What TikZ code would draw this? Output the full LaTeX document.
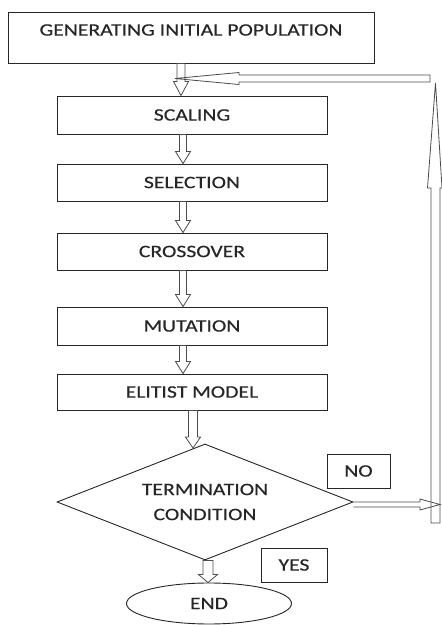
\documentclass[tikz,border=0pt]{standalone}
\usepackage{fontspec}
\setmainfont{Carlito}[FakeStretch=1.24,FakeBold=0.4]
\usetikzlibrary{shapes.geometric,calc}
\newcommand\dnarrow[6]{% #1 x, #2 from, #3 to, #4 shaft half, #5 head half, #6 head length
  \draw[blk] let \p1=(#2), \p2=(#3) in
   (#1-#4,\y1) -- (#1-#4,\y2+#6) -- (#1-#5,\y2+#6) -- (#1,\y2) -- (#1+#5,\y2+#6)
   -- (#1+#4,\y2+#6) -- (#1+#4,\y1) -- cycle;}
\begin{document}
\begin{tikzpicture}[x=1pt,y=1pt,
  txt/.style={font=\fontsize{17.5}{25}\selectfont, text=black!85},
  box/.style={draw=black!85, line width=0.9pt, rectangle, inner sep=0pt, txt},
  blk/.style={draw=black!70, line width=0.8pt, line join=miter}]
\useasboundingbox (0,0) rectangle (442,625);
% boxes
\node[box, minimum width=366pt, minimum height=51pt] (gen) at (191,587.5) {};
\node[txt, inner sep=0pt] (gentext) at (191,595) {GENERATING INITIAL POPULATION};
\node[box, minimum width=270pt, minimum height=38pt] (scal) at (192,510) {SCALING};
\node[box, minimum width=270pt, minimum height=37pt] (sel) at (192,442.5) {SELECTION};
\node[box, minimum width=270pt, minimum height=37pt] (cross) at (192,373.5) {CROSSOVER};
\node[box, minimum width=270pt, minimum height=38pt] (mut) at (192,299) {MUTATION};
\node[box, minimum width=270pt, minimum height=36pt] (elit) at (192,233) {ELITIST MODEL};
\node[box, diamond, shape aspect=2.55, minimum width=296pt, minimum height=116pt, align=center] (dia) at (205,123) {TERMINATION\\CONDITION};
\node[box, ellipse, minimum width=165pt, minimum height=41pt] (end) at (209,21.5) {END};
\node[box, minimum width=63pt, minimum height=34pt] (no) at (358.5,154) {NO};
\node[box, minimum width=66pt, minimum height=34pt] (yes) at (294,60) {YES};
% down block arrows
\dnarrow{181}{gen.south}{scal.north}{4}{7.5}{14}
\dnarrow{183}{scal.south}{sel.north}{3.5}{7.5}{12}
\dnarrow{183}{sel.south}{cross.north}{3.5}{7.5}{12}
\dnarrow{183}{cross.south}{mut.north}{3.5}{7.5}{12}
\dnarrow{183}{mut.south}{elit.north}{3.5}{7.5}{12}
\dnarrow{193}{elit.south}{dia.102.7}{4.5}{7.5}{11}
\dnarrow{208}{dia.south}{end.north}{5}{9.5}{8}
% NO branch and feedback loop
\coordinate (nohead) at (440,120.5);
\coordinate (vbot) at (435.5,102);
\coordinate (vtop) at (435.5,542);
\coordinate (fbtail) at (430,546.5);
\coordinate (fbtip) at (175,546.5);
\draw[blk] let \p1=(dia.east), \p2=(nohead) in
  (\x1,\y2+2.5) -- (\x2-20,\y2+2.5) -- (\x2-20,\y2+5.5) -- (\x2,\y2)
  -- (\x2-20,\y2-5.5) -- (\x2-20,\y2-2.5) -- (\x1,\y2-2.5);
\draw[blk] let \p1=(vbot), \p2=(vtop) in
  (\x1-4.5,\y1) -- (\x1-4.5,\y2-105) -- (\x1-8,\y2-105) -- (\x2,\y2)
  -- (\x1+6.5,\y2-105) -- (\x1+4.5,\y2-105) -- (\x1+4.5,\y1) -- cycle;
\draw[blk] let \p1=(fbtail), \p2=(fbtip) in
  (\x2,\y2) -- (\x2+64,\y2+6) -- (\x2+64,\y2+3.5) -- (\x1,\y1+3.5)
  -- (\x1,\y1-3.5) -- (\x2+64,\y2-3.5) -- (\x2+64,\y2-6) -- cycle;
\end{tikzpicture}
\end{document}
